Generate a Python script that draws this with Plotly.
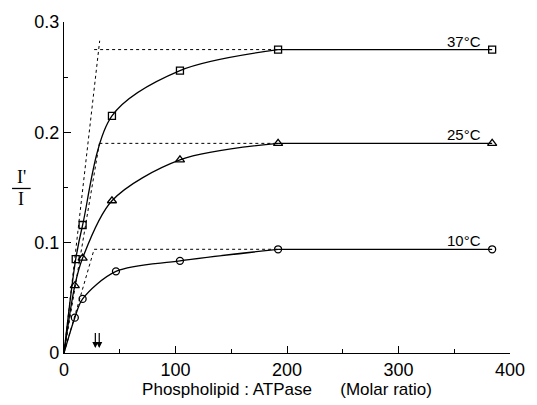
import plotly.graph_objects as go

# ---- data ----
ratio_37 = [10.5, 16.7, 43, 104, 192, 384]
frac_37 = [0.085, 0.116, 0.215, 0.256, 0.275, 0.275]
ratio_25 = [9.7, 16.7, 43, 104, 192, 384]
frac_25 = [0.061, 0.086, 0.138, 0.175, 0.190, 0.190]
ratio_10 = [9.7, 16.7, 46.6, 104, 192, 384]
frac_10 = [0.032, 0.049, 0.074, 0.0835, 0.094, 0.094]

# dotted construction lines (initial slope and plateau)
slope_x = {"37": [0, 32], "25": [0, 31.7], "10": [0, 27]}
slope_y = {"37": [0, 0.283], "25": [0, 0.19], "10": [0, 0.094]}
plateau_x = {"37": [27, 192], "25": [31.7, 192], "10": [27, 192]}
plateau_y = {"37": [0.275, 0.275], "25": [0.19, 0.19], "10": [0.094, 0.094]}

labels = ["37°C", "25°C", "10°C"]
arrow_x = [28.1, 31.6]
arrow_y = [0.0195, 0.0045]

FONT = "Liberation Sans"
fig = go.Figure()

for k in ["37", "25", "10"]:
    fig.add_trace(go.Scatter(x=slope_x[k], y=slope_y[k], mode="lines",
                             line=dict(color="black", width=1, dash="dot"),
                             showlegend=False, hoverinfo="skip"))
    fig.add_trace(go.Scatter(x=plateau_x[k], y=plateau_y[k], mode="lines",
                             line=dict(color="black", width=1, dash="dot"),
                             showlegend=False, hoverinfo="skip"))

series = [(ratio_37, frac_37, "square-open", 7),
          (ratio_25, frac_25, "triangle-up-open", 8),
          (ratio_10, frac_10, "circle-open", 7)]
for xs, ys, sym, sz in series:
    # rising part: smooth curve from the origin to the plateau point
    fig.add_trace(go.Scatter(x=[0] + xs[:-1], y=[0] + ys[:-1], mode="lines",
                             line=dict(color="black", width=1.3, shape="spline", smoothing=0.9),
                             showlegend=False, hoverinfo="skip"))
    # plateau part: straight line
    fig.add_trace(go.Scatter(x=xs[-2:], y=ys[-2:], mode="lines",
                             line=dict(color="black", width=1.3),
                             showlegend=False, hoverinfo="skip"))
    fig.add_trace(go.Scatter(x=xs, y=ys, mode="markers",
                             marker=dict(symbol=sym, size=sz, color="black",
                                         line=dict(width=1.3, color="black")),
                             showlegend=False))

for lab, yv in zip(labels, [frac_37[-1], frac_25[-1], frac_10[-1]]):
    fig.add_annotation(x=376, y=yv, text=lab, showarrow=False, xanchor="right",
                       yanchor="bottom", yshift=-2, font=dict(family=FONT, size=15, color="black"))

for ax_ in arrow_x:
    fig.add_annotation(x=ax_, y=arrow_y[1], ax=ax_, ay=arrow_y[0], xref="x", yref="y",
                       axref="x", ayref="y", showarrow=True, arrowhead=2,
                       arrowsize=1, arrowwidth=1.2, arrowcolor="black", text="")

pw, ph = 537 - 64 - 18, 405 - 22 - 45


def px(xp):
    return (xp - 64) / pw


def py(yp):
    return 1 - (yp - 22) / ph


# y-axis label I'/I as a fraction
fig.add_annotation(x=px(21), y=py(180), xref="paper", yref="paper", text="I'", showarrow=False,
                   xanchor="center", yanchor="middle",
                   font=dict(family="Liberation Serif", size=18, color="black"))
fig.add_annotation(x=px(20), y=py(203), xref="paper", yref="paper", text="I", showarrow=False,
                   xanchor="center", yanchor="middle",
                   font=dict(family="Liberation Serif", size=18, color="black"))
fig.add_shape(type="line", xref="paper", yref="paper",
              x0=px(11), x1=px(30), y0=py(192), y1=py(192),
              line=dict(color="black", width=1.3))

fig.update_layout(
    width=537, height=405,
    margin=dict(l=64, r=18, t=22, b=45),
    paper_bgcolor="white", plot_bgcolor="white",
    font=dict(family=FONT, size=18, color="black"),
)

fig.update_xaxes(range=[0, 400], tickvals=[0, 100, 200, 300, 400],
                 ticks="inside", ticklen=7, tickwidth=1.2, tickcolor="black",
                 minor=dict(tickvals=[50, 150, 250, 350], ticks="inside", ticklen=4,
                            tickwidth=1, tickcolor="black"),
                 showline=True, linecolor="black", linewidth=1.3, showgrid=False,
                 zeroline=False, tickfont=dict(size=18),
                 title=dict(text="Phospholipid : ATPase&nbsp;&nbsp;&nbsp;&nbsp;&nbsp;&nbsp;(Molar ratio)",
                            font=dict(size=17), standoff=1))
fig.update_yaxes(range=[0, 0.3], tickvals=[0, 0.1, 0.2, 0.3], ticktext=["0", "0.1", "0.2", "0.3"],
                 ticks="inside", ticklen=7, tickwidth=1.2, tickcolor="black",
                 minor=dict(tickvals=[0.05, 0.15, 0.25], ticks="inside", ticklen=4,
                            tickwidth=1, tickcolor="black"),
                 showline=True, linecolor="black", linewidth=1.3, showgrid=False,
                 zeroline=False, tickfont=dict(size=18))

fig.write_html("out.html")
